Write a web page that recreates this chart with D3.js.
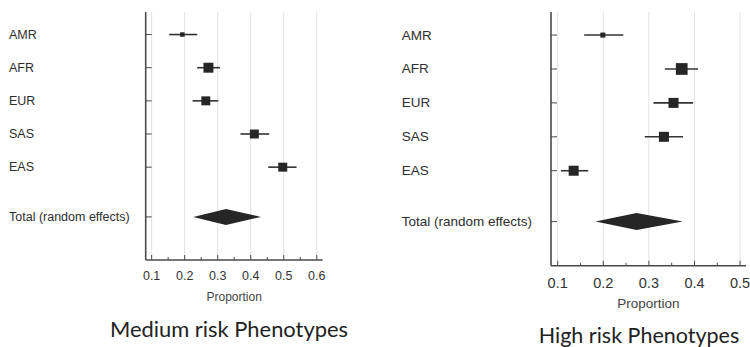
<!DOCTYPE html>
<html>
<head>
<meta charset="utf-8">
<script src="https://cdn.jsdelivr.net/npm/d3@7"></script>
<style>
  html, body { margin: 0; padding: 0; background: #fff; }
  svg { display: block; }
</style>
</head>
<body>
<div id="chart"></div>
<script>
// study groups (same for both panels)
const groups = ['AMR', 'AFR', 'EUR', 'SAS', 'EAS'];
const totalLabel = 'Total (random effects)';

// medium risk phenotypes: proportion, 95% CI, weight (%)
const mediumEst = [0.193, 0.272, 0.264, 0.411, 0.497];
const mediumLow = [0.153, 0.238, 0.224, 0.369, 0.453];
const mediumHigh = [0.238, 0.307, 0.302, 0.456, 0.539];
const mediumWeight = [5.6, 27.5, 22.3, 22.3, 22.3];
const mediumTotal = [0.226, 0.325, 0.431]; // low, est, high
const mediumTicks = [0.1, 0.2, 0.3, 0.4, 0.5, 0.6];

// high risk phenotypes
const highEst = [0.199, 0.372, 0.354, 0.333, 0.135];
const highLow = [0.158, 0.335, 0.310, 0.291, 0.107];
const highHigh = [0.244, 0.408, 0.397, 0.375, 0.167];
const highWeight = [5.4, 29.6, 21.6, 21.6, 21.6];
const highTotal = [0.183, 0.273, 0.374];
const highTicks = [0.1, 0.2, 0.3, 0.4, 0.5];

const svg = d3.select('#chart').append('svg')
  .attr('width', 750)
  .attr('height', 347);

const axisColor = '#4a4a4a';
const markColor = '#262626';

function drawPanel(p) {
  const g = svg.append('g');

  const x = d3.scaleLinear().domain(p.domain).range([p.left, p.right]);
  // row index -> y (total row sits one and a half rows below the last group)
  const y = d3.scaleLinear().domain([-0.68, 6.8]).range([p.top, p.bottom]);
  const size = d3.scaleSqrt().domain([0, 30]).range([0, p.maxBox]);

  const rows = groups.map((name, i) => ({
    name, idx: i, est: p.est[i], lo: p.low[i], hi: p.high[i], w: p.weight[i]
  }));
  const totalIdx = 5.5;

  // gridlines
  g.selectAll('line.grid')
    .data(p.ticks)
    .enter().append('line')
    .attr('class', 'grid')
    .attr('x1', d => x(d)).attr('x2', d => x(d))
    .attr('y1', p.top).attr('y2', p.bottom)
    .attr('stroke', '#e2e2e2')
    .attr('stroke-width', 1);

  // x axis (ticks point up into the plot)
  const minor = d3.range(p.ticks[0], p.ticks[p.ticks.length - 1] + 0.001, 0.05);
  g.selectAll('line.minor')
    .data(minor)
    .enter().append('line')
    .attr('x1', d => x(d)).attr('x2', d => x(d))
    .attr('y1', p.bottom).attr('y2', d => p.bottom - (Math.abs(d * 10 - Math.round(d * 10)) < 1e-6 ? 5 : 3))
    .attr('stroke', axisColor)
    .attr('stroke-width', 1);

  g.append('line')
    .attr('x1', p.left).attr('x2', p.right)
    .attr('y1', p.bottom).attr('y2', p.bottom)
    .attr('stroke', axisColor)
    .attr('stroke-width', 1.6);

  g.selectAll('text.tick')
    .data(p.ticks)
    .enter().append('text')
    .attr('x', d => x(d))
    .attr('y', p.bottom + p.tickGap)
    .attr('text-anchor', 'middle')
    .attr('dominant-baseline', 'central')
    .style('font-family', 'Liberation Sans, Arial, sans-serif')
    .style('font-size', p.tickFont + 'px')
    .attr('fill', '#333')
    .text(d => d3.format('.1f')(d));

  g.append('text')
    .attr('x', (p.left + p.right) / 2)
    .attr('y', p.bottom + p.labelGap)
    .attr('text-anchor', 'middle')
    .attr('dominant-baseline', 'central')
    .style('font-family', 'Liberation Sans, Arial, sans-serif')
    .style('font-size', p.axisFont + 'px')
    .attr('fill', '#444')
    .text('Proportion');

  // y axis
  g.append('line')
    .attr('x1', p.left).attr('x2', p.left)
    .attr('y1', p.top).attr('y2', p.bottom)
    .attr('stroke', axisColor)
    .attr('stroke-width', 1.6);

  g.selectAll('line.ytick')
    .data(d3.range(0, 5).concat([totalIdx]))
    .enter().append('line')
    .attr('x1', p.left).attr('x2', p.left + 6)
    .attr('y1', d => y(d)).attr('y2', d => y(d))
    .attr('stroke', axisColor)
    .attr('stroke-width', 1);

  // row labels
  g.selectAll('text.row')
    .data(rows.map(r => [r.name, r.idx]).concat([[totalLabel, totalIdx]]))
    .enter().append('text')
    .attr('x', p.labelX)
    .attr('y', d => y(d[1]))
    .attr('dominant-baseline', 'central')
    .style('font-family', 'Liberation Sans, Arial, sans-serif')
    .style('font-size', p.rowFont + 'px')
    .attr('fill', '#2e2e2e')
    .text(d => d[0]);

  // confidence intervals
  g.selectAll('line.ci')
    .data(rows)
    .enter().append('line')
    .attr('x1', d => x(d.lo)).attr('x2', d => x(d.hi))
    .attr('y1', d => y(d.idx)).attr('y2', d => y(d.idx))
    .attr('stroke', '#333')
    .attr('stroke-width', 1.6);

  // weighted boxes
  g.selectAll('rect.box')
    .data(rows)
    .enter().append('rect')
    .attr('x', d => x(d.est) - size(d.w) / 2)
    .attr('y', d => y(d.idx) - size(d.w) / 2)
    .attr('width', d => size(d.w))
    .attr('height', d => size(d.w))
    .attr('fill', markColor);

  // pooled estimate diamond
  const yt = y(totalIdx);
  const h = p.diamondH;
  g.append('path')
    .attr('d', `M${x(p.total[0])},${yt} L${x(p.total[1])},${yt - h} L${x(p.total[2])},${yt} L${x(p.total[1])},${yt + h} Z`)
    .attr('fill', markColor);

  // panel title
  g.append('text')
    .attr('x', p.titleX)
    .attr('y', p.titleY)
    .attr('text-anchor', 'middle')
    .style('font-family', 'Lato, Open Sans, sans-serif')
    .style('font-size', p.titleFont + 'px')
    .attr('fill', '#222')
    .text(p.title);
}

drawPanel({
  est: mediumEst, low: mediumLow, high: mediumHigh, weight: mediumWeight,
  total: mediumTotal, ticks: mediumTicks,
  domain: [0.082, 0.618],
  left: 145.7, right: 322.7, top: 12, bottom: 260,
  maxBox: 10.4, diamondH: 8,
  labelX: 9, rowFont: 12.5, tickFont: 12.5, axisFont: 12, tickGap: 16, labelGap: 37,
  title: 'Medium risk Phenotypes', titleX: 229, titleY: 337, titleFont: 21.9
});

drawPanel({
  est: highEst, low: highLow, high: highHigh, weight: highWeight,
  total: highTotal, ticks: highTicks,
  domain: [0.0853, 0.513],
  left: 551, right: 746, top: 12, bottom: 265.7,
  maxBox: 11.8, diamondH: 8.5,
  labelX: 401.7, rowFont: 13.5, tickFont: 14.5, axisFont: 13.5, tickGap: 17, labelGap: 37.5,
  title: 'High risk Phenotypes', titleX: 639, titleY: 343, titleFont: 21.5
});
</script>
</body>
</html>
